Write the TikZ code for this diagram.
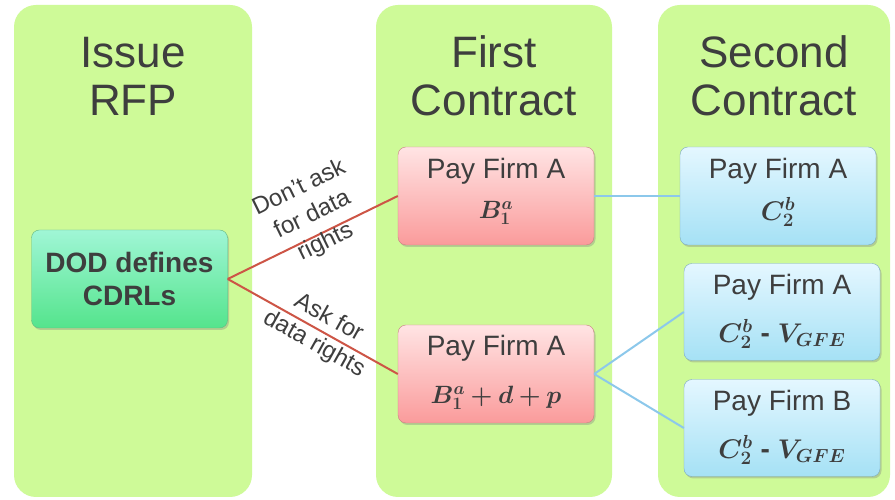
\RequirePackage{fix-cm}
\documentclass[tikz,border=0pt]{standalone}
\usepackage{amsmath,bm}
\usepackage{fontspec}
\setmainfont{Liberation Sans}
\usetikzlibrary{shadows}
\definecolor{colgreen}{RGB}{206,250,152}
\definecolor{txt}{RGB}{62,62,62}
\definecolor{dodtop}{RGB}{160,246,214}
\definecolor{dodbot}{RGB}{84,228,140}
\definecolor{dodline}{RGB}{100,185,130}
\definecolor{redtop}{RGB}{255,228,228}
\definecolor{redbot}{RGB}{250,155,155}
\definecolor{redline}{RGB}{200,130,130}
\definecolor{bluetop}{RGB}{228,247,255}
\definecolor{bluebot}{RGB}{165,225,245}
\definecolor{blueline}{RGB}{125,170,190}
\definecolor{redconn}{RGB}{205,85,70}
\definecolor{blueconn}{RGB}{140,200,235}
\newcommand\mth[1]{{\fontsize{25}{30}\selectfont$\bm{#1}$}}
\newcommand\mthb[1]{{\fontsize{27}{30}\selectfont$\bm{#1}$}}
\newcommand\dep[1]{\rule[-#1pt]{0pt}{#1pt}}
\begin{document}
\begin{tikzpicture}[x=1pt,y=1pt,
  colbox/.style={fill=colgreen, rounded corners=22pt, minimum width=#1, minimum height=492pt, inner sep=0pt},
  coltitle/.style={text=txt, align=center, font=\fontsize{44}{48}\selectfont},
  cbox/.style={rounded corners=8pt, minimum width=196pt, minimum height=98pt, inner sep=0pt, align=center, text=txt, font=\fontsize{28}{38}\selectfont, drop shadow={shadow xshift=1.5pt, shadow yshift=-2pt, opacity=0.35}},
  dodbox/.style={cbox, draw=dodline, top color=dodtop, bottom color=dodbot, font=\bfseries\fontsize{28}{33}\selectfont},
  redbox/.style={cbox, draw=redline, top color=redtop, bottom color=redbot},
  bluebox/.style={cbox, draw=blueline, top color=bluetop, bottom color=bluebot},
  lab/.style={text=txt, align=center, font=\fontsize{24}{30}\selectfont, sloped, inner sep=0pt},
  redc/.style={draw=redconn, line width=2pt},
  bluec/.style={draw=blueconn, line width=2pt}
]
\useasboundingbox (0,0) rectangle (895,500);
\fill[white] (0,0) rectangle (895,500);
% columns
\node[colbox=238pt] (c1) at (133,249) {};
\node[colbox=236pt] (c2) at (494,249) {};
\node[colbox=232pt] (c3) at (774,249) {};
\node[coltitle] (t1) at (133,424) {Issue\\RFP};
\node[coltitle] (t2) at (494,424) {First\\Contract};
\node[coltitle] (t3) at (774,424) {Second\\Contract};
% boxes
\node[dodbox] (dod) at (129.5,221) {DOD defines\\CDRLs};
\node[redbox] (r1) at (496,304) {Pay Firm A\\[2pt]\mth{B_1^a}\dep{16}};
\node[redbox] (r2) at (496,126) {Pay Firm A\\[10pt]\mth{B_1^a+d+p}\dep{10}};
\node[bluebox] (b1) at (778,304) {Pay Firm A\\[4pt]\mthb{C_2^b}\dep{14}};
\node[bluebox, minimum height=97pt] (b2) at (782,188) {Pay Firm A\\[10pt]\mthb{C_2^b}\;\textbf{-}\;\mthb{V_{GFE}}\dep{8}};
\node[bluebox, minimum height=97pt] (b3) at (782,72) {Pay Firm B\\[10pt]\mthb{C_2^b}\;\textbf{-}\;\mthb{V_{GFE}}\dep{8}};
% connectors
\draw[redc] (dod.east) -- node[lab, pos=0.55, yshift=20pt] (l1) {Don't ask\\for data\\rights} (r1.west);
\draw[redc] (dod.east) -- node[lab, pos=0.55] (l2) {Ask for\\data rights} (r2.west);
\draw[bluec] (r1.east) -- (b1.west);
\draw[bluec] (r2.east) -- (b2.west);
\draw[bluec] (r2.east) -- (b3.west);
\end{tikzpicture}
\end{document}
